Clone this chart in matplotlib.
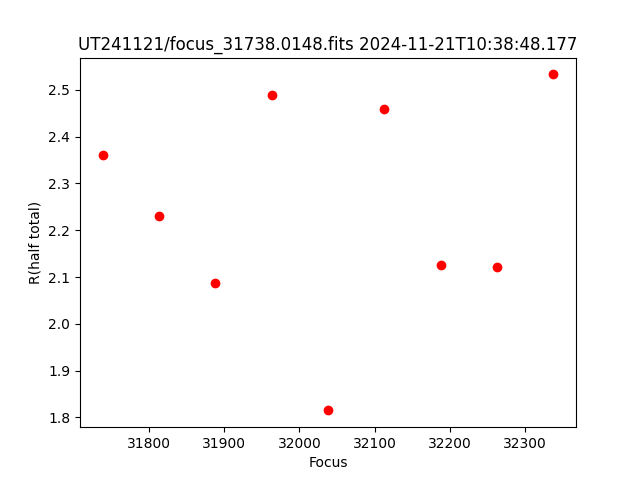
import matplotlib
matplotlib.use('Agg')
import matplotlib.pyplot as plt

focus = [31738, 31813, 31888, 31963, 32038, 32113, 32188, 32263, 32338]
r_half = [2.360, 2.230, 2.087, 2.488, 1.815, 2.458, 2.125, 2.121, 2.533]

fig = plt.figure(figsize=(6.4, 4.8), dpi=100)
plt.plot(focus, r_half, 'ro')
plt.xlabel('Focus')
plt.ylabel('R(half total)')
plt.title('UT241121/focus_31738.0148.fits 2024-11-21T10:38:48.177')
plt.savefig('out.png')
